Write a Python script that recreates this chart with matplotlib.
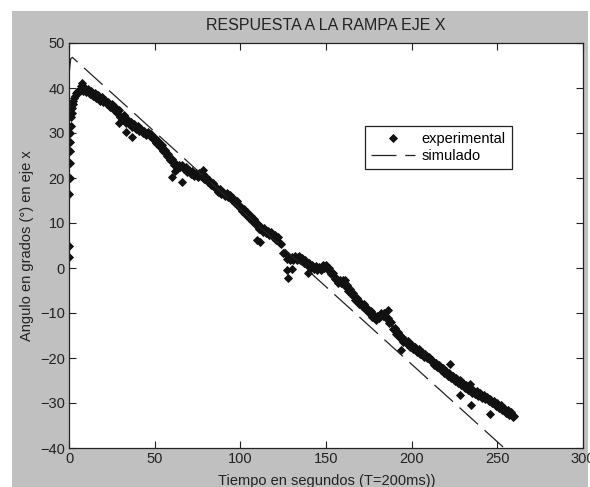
import matplotlib
matplotlib.use('Agg')
import matplotlib.pyplot as plt
from matplotlib.patches import Rectangle
import numpy as np

plt.rcParams['font.family'] = ['Liberation Sans', 'DejaVu Sans']

start_t = [0, 0, 0, 0.3, 0.3, 0.5, 0.6, 0.8, 1.0, 1.2, 1.5, 1.8, 2.2, 2.6, 3.0, 3.5, 4.0, 4.5, 5.0]
start_y = [2.5, 5.0, 16.5, 20.0, 23.3, 26.0, 28.0, 30.0, 31.5, 33.5, 34.5, 35.5, 36.5, 37.2, 37.8, 38.3, 38.8, 39.1, 39.3]

# experimental samples, one per second from t=6 to t=260
main_y = [
    39.2, 40.4, 39.3, 40.2, 39.1, 39.8, 38.7, 39.4, 38.3, 38.9,   # 6-15
    37.8, 38.4, 37.2, 38.1, 36.9, 37.4, 36.4, 37.0, 35.7, 36.5,   # 16-25
    35.2, 35.8, 34.5, 35.1, 33.6, 33.0, 33.9, 32.3, 33.2, 31.9,   # 26-35
    32.4, 31.4, 31.9, 30.9, 31.5, 30.5, 31.0, 30.0, 30.5, 29.5,   # 36-45
    30.2, 29.3, 29.8, 28.7, 29.0, 27.8, 28.3, 27.0, 27.3, 25.9,   # 46-55
    26.2, 24.9, 25.3, 24.0, 24.2, 23.0, 23.3, 21.9, 23.0, 22.5,   # 56-65
    23.0, 21.9, 22.4, 21.3, 21.8, 20.9, 21.5, 20.5, 21.1, 20.2,   # 66-75
    21.1, 20.4, 21.0, 19.8, 20.3, 19.2, 19.6, 18.5, 18.9, 17.7,   # 76-85
    18.1, 17.0, 17.5, 16.4, 17.0, 16.1, 16.7, 15.7, 16.3, 15.2,   # 86-95
    15.6, 14.4, 14.8, 13.5, 13.8, 12.6, 13.1, 11.9, 12.5, 11.2,   # 96-105
    11.6, 10.4, 10.8, 9.6, 10.0, 8.6, 9.1, 8.1, 8.9, 7.7,         # 106-115
    8.3, 7.3, 7.9, 6.9, 7.4, 6.3, 6.8, 5.6, 5.4, 3.4,             # 116-125
    3.3, 2.1, 2.7, 1.8, 2.5, 1.8, 2.7, 1.8, 2.6, 1.7,             # 126-135
    2.2, 1.2, 1.8, 0.7, 1.2, 0.1, 0.7, -0.2, 0.4, -0.5,           # 136-145
    0.3, -0.4, 0.6, -0.1, 0.6, -0.5, -0.1, -1.4, -1.2, -2.5,      # 146-155
    -2.2, -3.3, -2.6, -3.3, -2.6, -4.0, -3.8, -5.0, -4.6, -5.9,   # 156-165
    -5.6, -7.0, -6.7, -7.9, -7.5, -8.5, -7.9, -9.1, -8.8, -10.0,  # 166-175
    -9.6, -10.8, -10.4, -11.5, -10.7, -11.2, -10.0, -10.6, -9.9, -11.2,    # 176-185
    -11.0, -12.3, -12.1, -13.5, -13.3, -14.6, -14.3, -15.5, -15.2, -16.4,  # 186-195
    -15.9, -16.9, -16.3, -17.5, -17.0, -18.1, -17.5, -18.6, -18.1, -19.1,  # 196-205
    -18.6, -19.7, -19.2, -20.0, -19.8, -20.6, -20.4, -21.5, -21.1, -22.1,  # 206-215
    -21.5, -22.6, -22.2, -23.4, -22.9, -24.0, -23.4, -24.5, -23.9, -25.0,  # 216-225
    -24.4, -25.5, -24.9, -26.0, -25.5, -26.6, -26.1, -27.2, -26.7, -27.7,  # 226-235
    -27.1, -28.1, -27.3, -28.5, -27.8, -28.8, -28.2, -29.2, -28.6, -29.6,  # 236-245
    -29.0, -30.0, -29.5, -30.6, -30.1, -31.1, -30.5, -31.6, -31.1, -32.2,  # 246-255
    -31.6, -32.7, -32.1, -33.2, -32.9,                                     # 256-260
]
main_t = list(range(6, 6 + len(main_y)))

# scattered samples away from the band
out_t = [7.5, 29, 33, 37, 60, 62, 66, 78.5, 109.5, 111.5, 127, 128, 130, 139.5,
         161, 186, 194, 222.5, 228.5, 234, 234.5, 246]
out_y = [41.2, 32.2, 30.3, 29.1, 20.3, 21.5, 19.2, 21.7, 6.2, 5.8, -0.4, -2.3, -0.3, -1.2,
         -2.6, -9.3, -18.2, -21.3, -28.2, -25.8, -30.4, -32.4]

# simulated response (corner points of the dashed line)
sim_t = [0, 1, 2, 254, 258]
sim_y = [43.0, 46.5, 46.8, -40.0, -40.0]

exp_t = start_t + main_t + out_t
exp_y = start_y + main_y + out_y

fig = plt.figure(figsize=(5.9, 4.87), dpi=100, facecolor='white')
fig.patches.append(Rectangle((12 / 590, 0), 576 / 590, 476 / 487, transform=fig.transFigure,
                             facecolor='#c0c0c0', edgecolor='none', zorder=-10))

ax = fig.add_axes([69 / 590, 39 / 487, 514 / 590, 405 / 487])
ax.set_facecolor('white')

ax.plot(exp_t, exp_y, linestyle='none', marker='D', markersize=4.2, color='#111111',
        markeredgewidth=0.6, label='experimental')
ax.plot(sim_t, sim_y, color='#222222', linewidth=0.9, dashes=(20, 7), label='simulado')

ax.set_xlim(0, 300)
ax.set_ylim(-40, 50)
ax.set_xticks(np.arange(0, 301, 50))
ax.set_yticks(np.arange(-40, 51, 10))
ax.tick_params(direction='in', length=5, width=0.8, top=True, right=True,
               labelsize=10.5, colors='#222222', pad=3)
for s in ax.spines.values():
    s.set_linewidth(0.9)
    s.set_color('#222222')

ax.set_title('RESPUESTA A LA RAMPA EJE X', fontsize=11.5, color='#222222', pad=9)
ax.set_ylabel('Angulo en grados (°) en eje x', fontsize=10.5, color='#222222', labelpad=4)
fig.text(0.553, 1 - 481 / 487, 'Tiempo en segundos (T=200ms))', ha='center', va='center',
         fontsize=10.5, color='#222222')

leg = ax.legend(loc='upper left', bbox_to_anchor=(365 / 590, 1 - 126 / 487),
                bbox_transform=fig.transFigure, fontsize=10.5, frameon=True, fancybox=False,
                edgecolor='#222222', framealpha=1, borderpad=0.4, handlelength=3.0,
                handletextpad=0.5, labelspacing=0.25, borderaxespad=0)
leg.get_frame().set_linewidth(0.9)

fig.savefig('out.png', dpi=100, facecolor=fig.get_facecolor())
